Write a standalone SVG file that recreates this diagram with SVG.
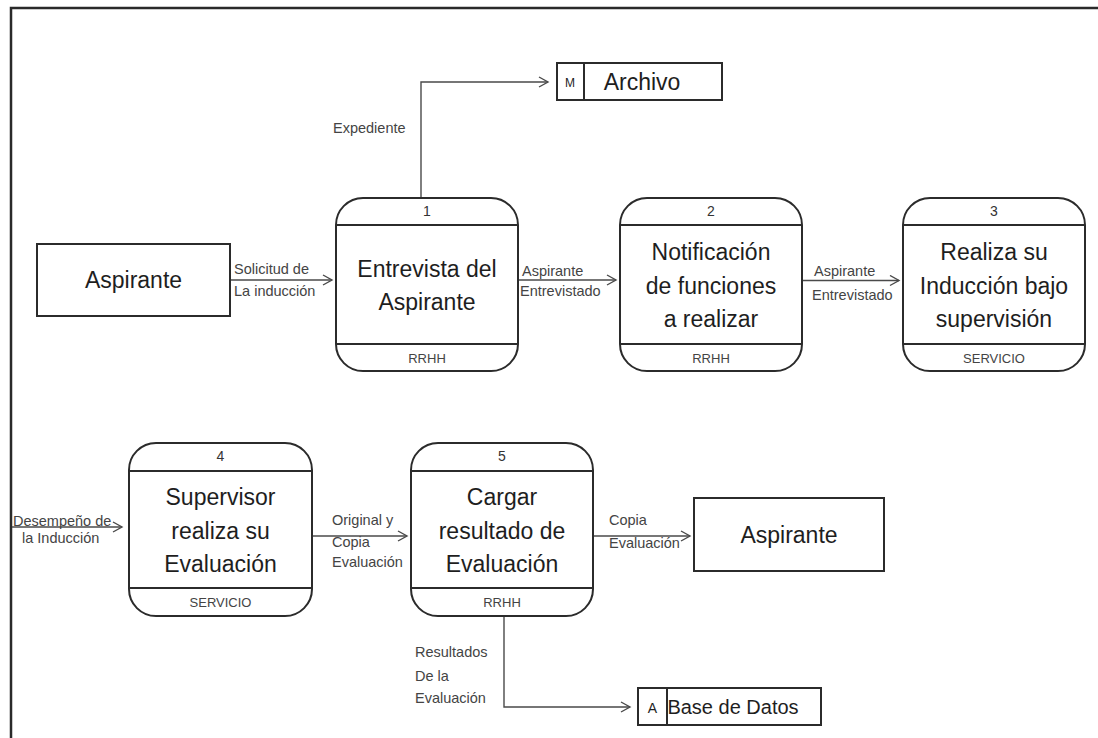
<svg xmlns="http://www.w3.org/2000/svg" width="1098" height="738" viewBox="0 0 1098 738">
<defs>
<style>
.box{fill:#fff;stroke:#2b2b2b;stroke-width:2}
.div{stroke:#2b2b2b;stroke-width:2;fill:none}
.ln{stroke:#4a4a4a;stroke-width:1.4;fill:none}
.t{font-family:"Liberation Sans",Arial,sans-serif;fill:#1e1e1e}
.title{font-size:23px;text-anchor:middle}
.num{font-size:14px;text-anchor:middle;fill:#333}
.dep{font-size:13px;text-anchor:middle;fill:#444}
.lbl{font-size:14.5px;fill:#444}
</style>
<marker id="arr" markerWidth="12" markerHeight="12" refX="10" refY="6" orient="auto" markerUnits="userSpaceOnUse">
<path d="M1,1 L10,6 L1,11" fill="none" stroke="#4a4a4a" stroke-width="1.4"/>
</marker>
</defs>
<rect width="1098" height="738" fill="#fff"/>
<path d="M11,738 V8 H1098" fill="none" stroke="#2a2a2a" stroke-width="2.5"/>

<g id="connectors">
<path class="ln" d="M421,198 V82 H548" marker-end="url(#arr)"/>
<path class="ln" d="M230,280 H332" marker-end="url(#arr)"/>
<path class="ln" d="M518,280 H616" marker-end="url(#arr)"/>
<path class="ln" d="M802,280.5 H899" marker-end="url(#arr)"/>
<path class="ln" d="M12,527 H122" marker-end="url(#arr)"/>
<path class="ln" d="M312,536 H407" marker-end="url(#arr)"/>
<path class="ln" d="M593,536 H690" marker-end="url(#arr)"/>
<path class="ln" d="M504,616 V707 H630" marker-end="url(#arr)"/>
<g class="t lbl">
<text x="333" y="133">Expediente</text>
<text x="234" y="274">Solicitud de</text>
<text x="234" y="296">La inducción</text>
<text x="522" y="276">Aspirante</text>
<text x="520" y="296">Entrevistado</text>
<text x="814" y="276">Aspirante</text>
<text x="812" y="300">Entrevistado</text>
<text x="13" y="526">Desempeño de</text>
<text x="22" y="543">la Inducción</text>
<text x="332" y="525">Original y</text>
<text x="332" y="547">Copia</text>
<text x="332" y="567">Evaluación</text>
<text x="609" y="525">Copia</text>
<text x="609" y="548">Evaluación</text>
<text x="415" y="657">Resultados</text>
<text x="415" y="681">De la</text>
<text x="415" y="703">Evaluación</text>
</g>
</g>

<g id="archivo">
<rect class="box" x="557" y="63" width="165" height="37"/>
<line class="div" x1="584" y1="63" x2="584" y2="100"/>
<text class="t" x="570" y="87" font-size="12" text-anchor="middle" fill="#444">M</text>
<text class="t" x="642" y="90" font-size="23" text-anchor="middle">Archivo</text>
</g>

<g id="aspirante1">
<rect class="box" x="37" y="244" width="193" height="72"/>
<text class="t title" x="133.5" y="288">Aspirante</text>
</g>

<g id="p1">
<rect class="box" x="336" y="198" width="182" height="173" rx="27"/>
<line class="div" x1="336" y1="225" x2="518" y2="225"/>
<line class="div" x1="336" y1="344" x2="518" y2="344"/>
<text class="t num" x="427" y="216">1</text>
<text class="t title" x="427" y="277">Entrevista del</text>
<text class="t title" x="427" y="310">Aspirante</text>
<text class="t dep" x="427" y="363">RRHH</text>
</g>

<g id="p2">
<rect class="box" x="620" y="198" width="182" height="173" rx="27"/>
<line class="div" x1="620" y1="225" x2="802" y2="225"/>
<line class="div" x1="620" y1="344" x2="802" y2="344"/>
<text class="t num" x="711" y="216">2</text>
<text class="t title" x="711" y="260">Notificación</text>
<text class="t title" x="711" y="294">de funciones</text>
<text class="t title" x="711" y="327">a realizar</text>
<text class="t dep" x="711" y="363">RRHH</text>
</g>

<g id="p3">
<rect class="box" x="903" y="198" width="182" height="173" rx="27"/>
<line class="div" x1="903" y1="225" x2="1085" y2="225"/>
<line class="div" x1="903" y1="344" x2="1085" y2="344"/>
<text class="t num" x="994" y="216">3</text>
<text class="t title" x="994" y="260">Realiza su</text>
<text class="t title" x="994" y="294">Inducción bajo</text>
<text class="t title" x="994" y="327">supervisión</text>
<text class="t dep" x="994" y="363">SERVICIO</text>
</g>

<g id="p4">
<rect class="box" x="129" y="443" width="183" height="173" rx="27"/>
<line class="div" x1="129" y1="471" x2="312" y2="471"/>
<line class="div" x1="129" y1="588" x2="312" y2="588"/>
<text class="t num" x="220.5" y="461">4</text>
<text class="t title" x="220.5" y="505">Supervisor</text>
<text class="t title" x="220.5" y="539">realiza su</text>
<text class="t title" x="220.5" y="572">Evaluación</text>
<text class="t dep" x="220.5" y="607">SERVICIO</text>
</g>

<g id="p5">
<rect class="box" x="411" y="443" width="182" height="173" rx="27"/>
<line class="div" x1="411" y1="471" x2="593" y2="471"/>
<line class="div" x1="411" y1="588" x2="593" y2="588"/>
<text class="t num" x="502" y="461">5</text>
<text class="t title" x="502" y="505">Cargar</text>
<text class="t title" x="502" y="539">resultado de</text>
<text class="t title" x="502" y="572">Evaluación</text>
<text class="t dep" x="502" y="607">RRHH</text>
</g>

<g id="aspirante2">
<rect class="box" x="694" y="498" width="190" height="73"/>
<text class="t title" x="789" y="543">Aspirante</text>
</g>

<g id="basedatos">
<rect class="box" x="638" y="688" width="183" height="37"/>
<line class="div" x1="667" y1="688" x2="667" y2="725"/>
<text class="t" x="652.5" y="713" font-size="14" text-anchor="middle" fill="#444">A</text>
<text class="t" x="733" y="714" font-size="20" text-anchor="middle">Base de Datos</text>
</g>
</svg>
